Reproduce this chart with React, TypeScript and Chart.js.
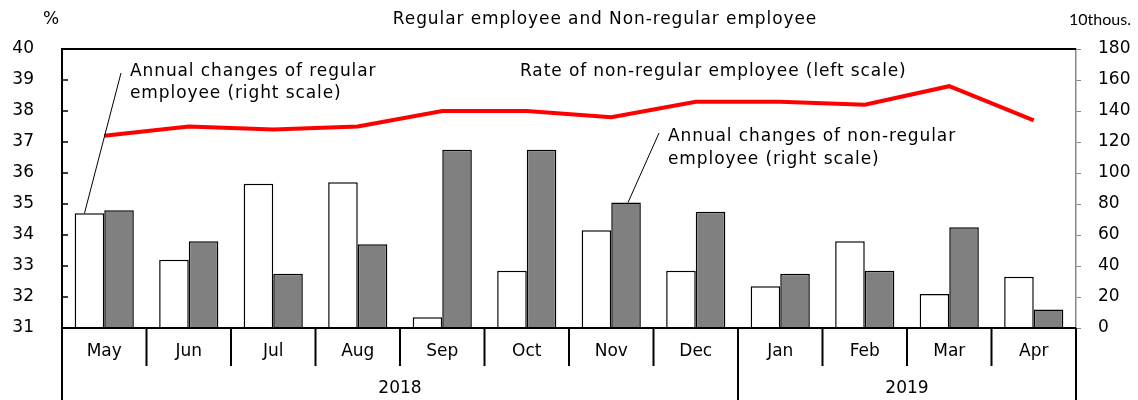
import React, { useEffect, useRef } from "react";
import { Chart, registerables } from "chart.js";

Chart.register(...registerables);

const months = ["May", "Jun", "Jul", "Aug", "Sep", "Oct", "Nov", "Dec", "Jan", "Feb", "Mar", "Apr"];
const yearLabels = ["2018", "2019"];
const yearStartIndex = [0, 8];

// Annual changes, 10 thousand persons (right scale)
const regularChanges = [74, 44, 93, 94, 7, 37, 63, 37, 27, 56, 22, 33];
const nonRegularChanges = [76, 56, 35, 54, 115, 115, 81, 75, 35, 37, 65, 12];
// Rate of non-regular employee, % (left scale)
const nonRegularRate = [37.2, 37.5, 37.4, 37.5, 38.0, 38.0, 37.8, 38.3, 38.3, 38.2, 38.8, 37.7];

const leftTicks = [31, 32, 33, 34, 35, 36, 37, 38, 39, 40];
const rightTicks = [0, 20, 40, 60, 80, 100, 120, 140, 160, 180];

const titleText = "Regular employee and Non-regular employee";
const leftUnit = "%";
const rightUnit = "10thous.";
const noteRegular = ["Annual changes of regular", "employee (right scale)"];
const noteRate = "Rate of non-regular employee (left scale)";
const noteNonRegular = ["Annual changes of non-regular", "employee (right scale)"];

const FONT = "DejaVu Sans";

const decorPlugin = {
  id: "decor",
  afterDraw(chart: any) {
    const { ctx, chartArea, scales } = chart;
    const xs = scales.x;
    const yL = scales.yL;
    const H = chart.height;
    const { left, right, top, bottom } = chartArea;
    ctx.save();
    ctx.strokeStyle = "#000";
    ctx.lineCap = "butt";

    // plot frame top and bottom
    ctx.lineWidth = 2;
    ctx.beginPath();
    ctx.moveTo(left, top);
    ctx.lineTo(right, top);
    ctx.moveTo(left, bottom);
    ctx.lineTo(right, bottom);
    ctx.stroke();

    // left axis extension & right edge of category table
    ctx.beginPath();
    ctx.moveTo(left, bottom);
    ctx.lineTo(left, H);
    ctx.moveTo(right, bottom);
    ctx.lineTo(right, H);
    ctx.stroke();

    // inward ticks on left axis
    ctx.lineWidth = 1.5;
    ctx.beginPath();
    leftTicks.forEach((v) => {
      const y = yL.getPixelForValue(v);
      ctx.moveTo(left, y);
      ctx.lineTo(left + 6, y);
    });
    ctx.stroke();

    // month dividers
    const rowH = 38;
    ctx.lineWidth = 2;
    ctx.beginPath();
    for (let i = 1; i < months.length; i++) {
      const x = (xs.getPixelForValue(i - 1) + xs.getPixelForValue(i)) / 2;
      const isYear = yearStartIndex.includes(i);
      ctx.moveTo(x, bottom);
      ctx.lineTo(x, isYear ? H : bottom + rowH);
    }
    ctx.stroke();

    // month labels
    ctx.fillStyle = "#000";
    ctx.font = `17px "${FONT}"`;
    ctx.textAlign = "center";
    ctx.textBaseline = "middle";
    months.forEach((m, i) => {
      ctx.fillText(m, xs.getPixelForValue(i), bottom + 24);
    });

    // year labels
    yearLabels.forEach((yl, k) => {
      const s = yearStartIndex[k];
      const e = k + 1 < yearStartIndex.length ? yearStartIndex[k + 1] : months.length;
      const x0 = s === 0 ? left : (xs.getPixelForValue(s - 1) + xs.getPixelForValue(s)) / 2;
      const x1 = e === months.length ? right : (xs.getPixelForValue(e - 1) + xs.getPixelForValue(e)) / 2;
      ctx.fillText(yl, (x0 + x1) / 2, bottom + 61);
    });

    // title and units
    ctx.fillText(leftUnit, 51, 20);
    ctx.font = `16px "Lato"`;
    ctx.fillText(rightUnit, 1100, 20);

    ctx.font = `17px "${FONT}"`;
    (ctx as any).letterSpacing = "0.9px";
    ctx.fillText(titleText, 605, 20);

    // annotations
    ctx.textAlign = "left";
    ctx.fillText(noteRegular[0], 130, 72);
    ctx.fillText(noteRegular[1], 130, 94);
    ctx.fillText(noteRate, 520, 72);
    ctx.fillText(noteNonRegular[0], 668, 137);
    ctx.fillText(noteNonRegular[1], 668, 160);
    (ctx as any).letterSpacing = "0px";

    // leader lines
    const regMeta = chart.getDatasetMeta(1);
    const nonMeta = chart.getDatasetMeta(2);
    const b1 = regMeta.data[0];
    const b2 = nonMeta.data[6];
    ctx.lineWidth = 1;
    ctx.beginPath();
    ctx.moveTo(121, 73);
    ctx.lineTo(b1.x - 5, b1.y);
    ctx.moveTo(659, 133);
    ctx.lineTo(b2.x + 2, b2.y);
    ctx.stroke();

    ctx.restore();
  },
};

export default function App() {
  const canvasRef = useRef<HTMLCanvasElement | null>(null);

  useEffect(() => {
    if (!canvasRef.current) return;
    const chart = new Chart(canvasRef.current, {
      type: "bar",
      data: {
        labels: months,
        datasets: [
          {
            type: "line",
            label: "Rate of non-regular employee",
            data: nonRegularRate,
            yAxisID: "yL",
            borderColor: "#ff0000",
            borderWidth: 4,
            pointRadius: 0,
            tension: 0,
            order: 0,
          } as any,
          {
            type: "bar",
            label: "Annual changes of regular employee",
            data: regularChanges,
            yAxisID: "yR",
            backgroundColor: "#ffffff",
            borderColor: "#000000",
            borderWidth: 1.5,
            barPercentage: 1,
            categoryPercentage: 0.7,
            order: 1,
          },
          {
            type: "bar",
            label: "Annual changes of non-regular employee",
            data: nonRegularChanges,
            yAxisID: "yR",
            backgroundColor: "#808080",
            borderColor: "#000000",
            borderWidth: 1.5,
            barPercentage: 1,
            categoryPercentage: 0.7,
            order: 1,
          },
        ],
      },
      options: {
        responsive: false,
        maintainAspectRatio: false,
        animation: false,
        layout: { padding: { top: 49, left: 0, right: 0, bottom: 0 } },
        plugins: {
          legend: { display: false },
          title: { display: false },
          tooltip: { enabled: false },
        },
        scales: {
          x: {
            display: true,
            grid: { display: false, drawTicks: false },
            border: { display: false },
            ticks: { display: false },
            afterFit: (s: any) => {
              s.height = 72;
            },
          },
          yL: {
            position: "left",
            min: 31,
            max: 40,
            afterBuildTicks: (s: any) => {
              s.ticks = leftTicks.map((v) => ({ value: v }));
            },
            ticks: {
              color: "#000",
              font: { family: FONT, size: 17 },
              padding: 28,
            },
            grid: { display: false, drawTicks: false },
            border: { display: true, color: "#000", width: 2 },
            afterFit: (s: any) => {
              s.width = 62;
            },
          },
          yR: {
            position: "right",
            min: 0,
            max: 180,
            afterBuildTicks: (s: any) => {
              s.ticks = rightTicks.map((v) => ({ value: v }));
            },
            ticks: {
              color: "#000",
              font: { family: FONT, size: 17 },
              padding: 17,
            },
            grid: {
              drawOnChartArea: false,
              drawTicks: true,
              tickLength: 5,
              color: "#888",
              lineWidth: 1,
            },
            border: { display: true, color: "#888", width: 1.5 },
            afterFit: (s: any) => {
              s.width = 62;
            },
          },
        },
      },
      plugins: [decorPlugin],
    });
    return () => chart.destroy();
  }, []);

  return (
    <div style={{ position: "absolute", left: 0, top: 0, width: 1138, height: 400 }}>
      <canvas ref={canvasRef} width={1138} height={400} style={{ width: 1138, height: 400 }} />
    </div>
  );
}
